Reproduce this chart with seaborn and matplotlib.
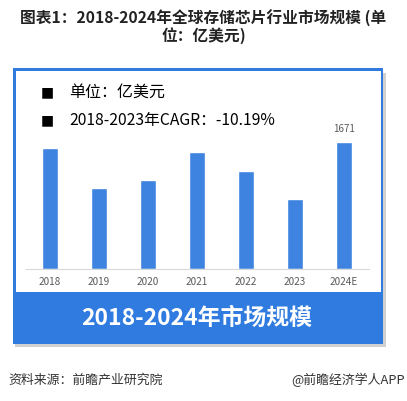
import matplotlib
matplotlib.use("Agg")
import matplotlib.pyplot as plt
from matplotlib.patches import Rectangle
import seaborn as sns
import pandas as pd

years = ["2018", "2019", "2020", "2021", "2022", "2023", "2024E"]
market_size = [1588, 1070, 1171, 1544, 1294, 917, 1671]
labelled = {"2024E": "1671"}

title_lines = "图表1：2018-2024年全球存储芯片行业市场规模 (单\n位：亿美元)"
note_unit = "单位：亿美元"
note_cagr = "2018-2023年CAGR：-10.19%"
band_text = "2018-2024年市场规模"
source_text = "资料来源：前瞻产业研究院"
brand_text = "@前瞻经济学人APP"

sns.set_theme(style="white")
plt.rcParams["font.family"] = ["Noto Sans CJK SC", "DejaVu Sans"]

W, H = 407, 401
fig = plt.figure(figsize=(W / 100, H / 100), dpi=100)
fig.patch.set_facecolor("white")

def fx(px):
    return px / W

def fy(py):
    return 1 - py / H

blue = "#2f7be0"
# shadow
fig.patches.append(Rectangle((fx(15), fy(347)), fx(371), (344 - 70) / H,
                             transform=fig.transFigure, facecolor="#d0d0d0",
                             edgecolor="none", zorder=0))
# frame
fig.patches.append(Rectangle((fx(13), fy(344)), fx(370), (344 - 68) / H,
                             transform=fig.transFigure, facecolor=blue,
                             edgecolor="none", zorder=1))
fig.patches.append(Rectangle((fx(15.5), fy(292)), fx(365), (292 - 71) / H,
                             transform=fig.transFigure, facecolor="white",
                             edgecolor="none", zorder=2))

# bar axes
ax = fig.add_axes([fx(25.5), fy(269), fx(343), 152 / H])
ax.set_zorder(5)
ax.patch.set_alpha(0)
df = pd.DataFrame({"year": years, "value": market_size})
sns.barplot(data=df, x="year", y="value", color="#3f83e0", width=0.31,
            saturation=1, ax=ax)
ax.set_xlim(-0.5, 6.5)
ax.set_ylim(0, 2000)
ax.set_xlabel("")
ax.set_ylabel("")
ax.set_yticks([])
for s in ["top", "right", "left"]:
    ax.spines[s].set_visible(False)
ax.spines["bottom"].set_color("#d9d9d9")
ax.spines["bottom"].set_linewidth(0.8)
ax.tick_params(axis="x", length=0, pad=6, labelsize=7.2, labelcolor="#595959")
for i, y in enumerate(years):
    if y in labelled:
        ax.annotate(labelled[y], (i, market_size[i]), xytext=(0, 6),
                    textcoords="offset points", ha="center", va="bottom",
                    fontsize=7, color="#595959")

# texts
fig.text(0.5, fy(27), title_lines, ha="center", va="center", fontsize=11.3,
         fontweight="bold", color="#222222", linespacing=1.05)
fig.text(fx(47), fy(92), "■", ha="center", va="center", fontsize=10, color="black",
         family=["DejaVu Sans"])
fig.text(fx(69), fy(92), note_unit, ha="left", va="center", fontsize=11.5,
         color="black", fontweight="medium")
fig.text(fx(47), fy(120), "■", ha="center", va="center", fontsize=10, color="black",
         family=["DejaVu Sans"])
fig.text(fx(69), fy(120), note_cagr, ha="left", va="center", fontsize=11.3,
         color="black", fontweight="medium")
fig.text(fx(197), fy(318), band_text, ha="center", va="center", fontsize=16.5,
         fontweight="bold", color="white")
fig.text(fx(8), fy(380), source_text, ha="left", va="center", fontsize=9.3, color="#333333")
fig.text(fx(405), fy(380), brand_text, ha="right", va="center", fontsize=9.3, color="#333333")

fig.savefig("out.png", dpi=100, facecolor="white")
